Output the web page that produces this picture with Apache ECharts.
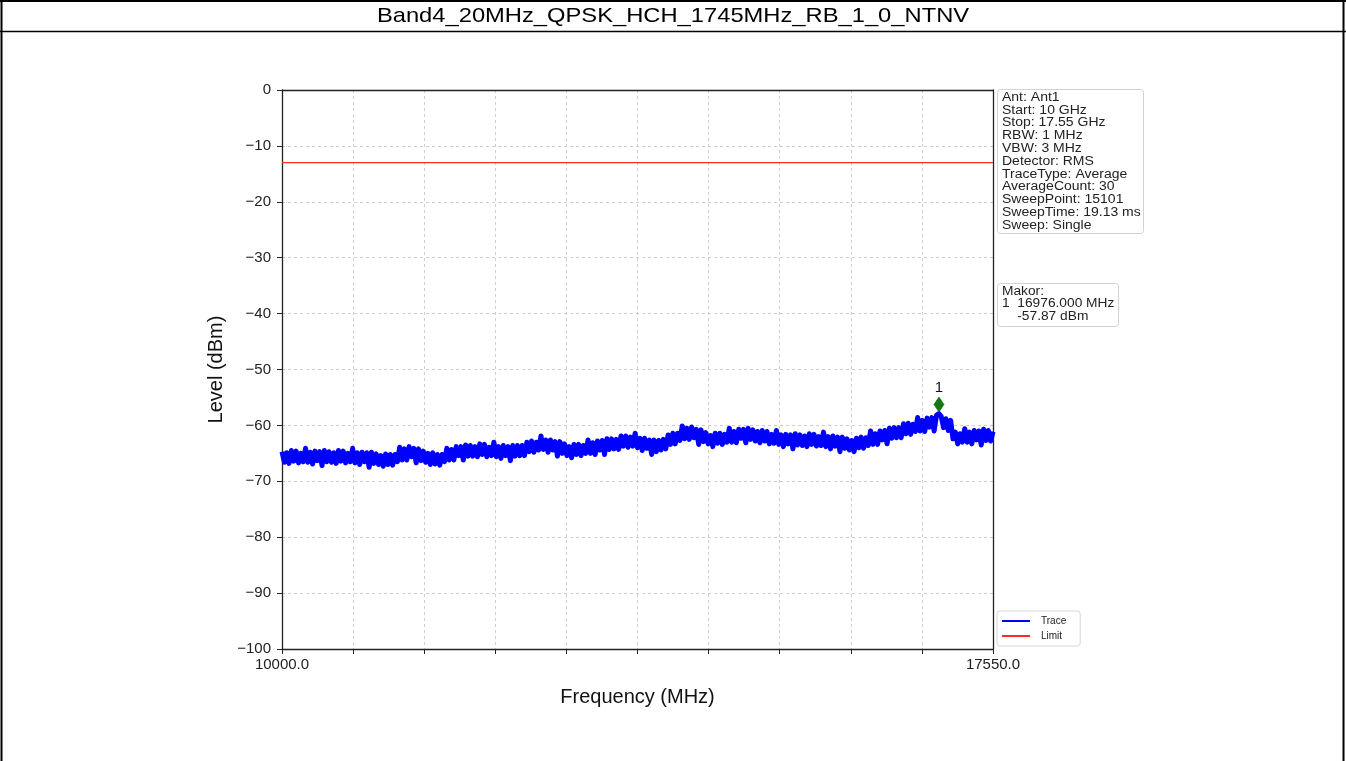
<!DOCTYPE html>
<html>
<head>
<meta charset="utf-8">
<script src="https://cdn.jsdelivr.net/npm/echarts@6/dist/echarts.min.js"></script>
<style>
html,body{margin:0;padding:0;background:#fff;}
#chart{width:1346px;height:761px;}
</style>
</head>
<body>
<div id="chart"></div>
<script>
// ---- data ----
const chartTitle = 'Band4_20MHz_QPSK_HCH_1745MHz_RB_1_0_NTNV';
const freqStart = 10000;   // MHz
const freqStop = 17550;    // MHz
const freqStep = 25;       // MHz between displayed sweep samples
const yTicks = [0, -10, -20, -30, -40, -50, -60, -70, -80, -90, -100];
const limitLevel = -13;    // dBm
const markerFreq = 16976.000;
const markerLevel = -57.87;
const infoLines = ['Ant: Ant1','Start: 10 GHz','Stop: 17.55 GHz','RBW: 1 MHz','VBW: 3 MHz','Detector: RMS','TraceType: Average','AverageCount: 30','SweepPoint: 15101','SweepTime: 19.13 ms','Sweep: Single'];
const markerLines = ['Makor:', '1  16976.000 MHz', '    -57.87 dBm'];
// trace levels (dBm), one per displayed sample starting at freqStart
const traceLevels = [
 -64.7,-66.6,-64.9,-66.8,-64.5,-66.4,-64.6,-66.7,-65.0,-66.5,-64.1,-66.6,-64.8,-66.9,-64.6,-66.3,-64.7,-67.2,-64.5,-66.5,
 -64.7,-66.6,-64.9,-66.8,-64.5,-66.4,-64.6,-66.7,-65.0,
 -66.5,-64.1,-66.7,-64.9,-67.0,-64.8,-66.5,-64.9,-67.5,-64.8,-66.8,-65.1,-67.0,-65.4,-67.3,-65.1,-67.0,-65.2,
 -67.1,-65.2,-66.5,-63.9,-66.2,-64.2,-66.2,-63.8,
 -65.6,-64.1,-66.7,-64.2,-66.3,-64.6,-66.6,-65.0,-67.0,-64.9,-66.9,-65.2,
 -67.1,-65.2,-66.5,-64.1,-66.2,-64.3,-66.2,-63.8,
 -65.4,-63.8,-66.2,-63.5,-65.5,-63.6,-65.5,-63.8,-65.6,-63.3,-65.2,-63.4,-65.6,-63.9,-65.4,-63.0,-65.6,-63.8,-65.9,-63.6,-65.4,-63.8,-66.3,-63.6,
 -65.5,-63.6,-65.4,-63.6,-65.4,-63.0,-64.7,-62.8,-64.8,-63.0,-64.4,-61.9,-64.3,
 -62.6,-64.8,-62.6,-64.4,-62.9,-65.5,-62.9,-65.0,-63.3,-65.4,-63.8,-65.8,
 -63.4,-65.2,-63.4,-65.4,-63.6,-65.0,-62.6,-65.0,-63.1,-65.2,-62.8,
 -64.4,-62.7,-65.2,-62.4,-64.3,-62.4,-64.2,-62.5,-64.3,-61.9,-63.7,-61.9,-63.9,-62.1,
 -63.7,-61.4,-64.0,-62.3,-64.5,-62.3,-64.1,-62.6,-65.2,-62.6,-64.7,
 -62.7,-64.4,-62.5,-64.2,-61.7,-63.4,-61.4,-63.3,-61.4,-62.7,-60.1,-62.4,-60.5,-62.5,
 -60.3,-62.2,-60.7,-63.4,-60.8,-62.9,-61.3,-63.3,-61.8,-63.8,
 -61.4,-63.2,-61.4,-63.4,-61.6,-63.0,-60.5,-63.0,-61.1,-63.1,-60.7,-62.3,-60.7,-63.1,
 -60.5,-62.5,-60.8,-62.8,-61.1,-63.1,-60.9,-62.8,-61.1,-63.3,-61.6,-63.2,-60.9,-63.4,-61.7,-63.8,-61.6,
 -63.3,-61.7,-64.2,-61.5,-63.5,-61.7,-63.6,-61.9,-63.8,-61.5,-63.4,-61.6,-63.7,-62.0,
 -63.6,-61.2,-63.8,-62.0,-64.2,-61.9,-63.7,-62.1,-64.7,-62.1,-64.1,-62.4,-64.4,-62.7,-64.7,
 -62.3,-64.0,-62.1,-64.1,-62.2,-63.6,-61.0,-63.4,-61.5,-63.4,-61.0,-62.6,-60.9,
 -63.3,-60.5,-62.3,-60.4,-62.2,-60.4,-62.2,-59.7,-61.5,-59.6,-61.6,-59.8,-61.1,-58.6,-61.0,
 -59.1,-61.1,-58.7,-60.3,-58.6,-61.0,-58.2,-57.9,-58.4,-60.4,-58.8,-60.9,-59.1,
 -62.4,-61.2,-63.3,-61.5,-63.0,-60.6,-63.0,-61.2,-63.3,-60.9,-62.6,-61.0,-63.5,-60.7,-62.7,-60.9,-62.8,-61.1
];

// ---- build ----
const FONT = '"Liberation Sans", Arial, Helvetica, sans-serif';
const traceData = traceLevels.map((v, i) => [freqStart + i * freqStep, v]);
const minus = v => String(v).replace('-', '\u2212');

const chart = echarts.init(document.getElementById('chart'), null, {renderer: 'canvas'});
const gridL = 282, gridT = 90, gridR = 993, gridB = 649;

const option = {
  backgroundColor: '#ffffff',
  animation: false,
  textStyle: {fontFamily: FONT},
  grid: {left: gridL, top: gridT, width: gridR - gridL, height: gridB - gridT, containLabel: false},
  xAxis: [{
    type: 'value', min: freqStart, max: freqStop, interval: (freqStop - freqStart) / 10,
    name: 'Frequency (MHz)', nameLocation: 'middle', nameGap: 38,
    nameTextStyle: {fontSize: 20, color: '#111', fontFamily: FONT},
    axisLine: {show: true, onZero: false, lineStyle: {color: '#222', width: 1.3}},
    axisTick: {show: true, inside: false, length: 5, lineStyle: {color: '#222', width: 1}},
    axisLabel: {
      fontSize: 15, color: '#222', margin: 8, fontFamily: FONT,
      showMinLabel: true, showMaxLabel: true,
      formatter: v => (Math.abs(v - freqStart) < 1e-6 || Math.abs(v - freqStop) < 1e-6) ? v.toFixed(1) : ''
    },
    splitLine: {show: true, lineStyle: {color: '#cfcfcf', type: [3, 3], width: 1}}
  }, {
    type: 'value', position: 'top', min: freqStart, max: freqStop,
    axisLine: {show: true, onZero: false, lineStyle: {color: '#222', width: 1.3}},
    axisTick: {show: false}, axisLabel: {show: false}, splitLine: {show: false}
  }],
  yAxis: [{
    type: 'value', min: -100, max: 0, interval: 10,
    name: 'Level (dBm)', nameLocation: 'middle', nameGap: 52,
    nameTextStyle: {fontSize: 20, color: '#111', fontFamily: FONT},
    axisLine: {show: true, onZero: false, lineStyle: {color: '#222', width: 1.3}},
    axisTick: {show: true, inside: false, length: 5, lineStyle: {color: '#222', width: 1}},
    axisLabel: {fontSize: 15, color: '#222', margin: 11, fontFamily: FONT,
      formatter: v => yTicks.includes(v) ? minus(v) : ''},
    splitLine: {show: true, lineStyle: {color: '#cfcfcf', type: [3, 3], width: 1}}
  }, {
    type: 'value', position: 'right', min: -100, max: 0,
    axisLine: {show: true, onZero: false, lineStyle: {color: '#222', width: 1.3}},
    axisTick: {show: false}, axisLabel: {show: false}, splitLine: {show: false}
  }],
  legend: {
    orient: 'vertical', left: 997, top: 611,
    data: [{name: 'Trace', icon: 'rect'}, {name: 'Limit', icon: 'rect'}],
    itemWidth: 28, itemHeight: 2, itemGap: 5,
    padding: [5, 14, 5, 5],
    backgroundColor: '#fff', borderColor: '#d6d6d6', borderWidth: 1, borderRadius: 3,
    textStyle: {fontSize: 10, color: '#222', fontFamily: FONT, padding: [0, 0, 0, 6]}
  },
  series: [{
    name: 'Trace', type: 'line', xAxisIndex: 0, yAxisIndex: 0,
    data: traceData, showSymbol: false, symbol: 'none',
    lineStyle: {color: '#0000ff', width: 5, join: 'round'},
    itemStyle: {color: '#0000ff'},
    z: 3
  }, {
    name: 'Limit', type: 'line', xAxisIndex: 0, yAxisIndex: 0,
    data: [[freqStart, limitLevel], [freqStop, limitLevel]],
    showSymbol: false, symbol: 'none',
    lineStyle: {color: '#ff2a2a', width: 1.2},
    itemStyle: {color: '#ff2a2a'},
    z: 4
  }, {
    name: 'Marker', type: 'scatter', xAxisIndex: 0, yAxisIndex: 0,
    data: [[markerFreq, markerLevel]],
    symbol: 'diamond', symbolSize: [10, 15], symbolOffset: [0, -9],
    itemStyle: {color: '#137a13', opacity: 1, borderColor: '#0b5a0b', borderWidth: 0.6},
    label: {show: true, position: 'top', distance: 1, formatter: '1', fontSize: 15, color: '#111', fontFamily: FONT},
    z: 5
  }],
  graphic: [
    // outer table frame
    {type: 'line', shape: {x1: 1.5, y1: 0, x2: 1.5, y2: 761}, style: {stroke: '#000', lineWidth: 2}},
    {type: 'line', shape: {x1: 1343.5, y1: 0, x2: 1343.5, y2: 761}, style: {stroke: '#000', lineWidth: 2}},
    {type: 'line', shape: {x1: 0, y1: 1, x2: 1346, y2: 1}, style: {stroke: '#000', lineWidth: 2}},
    {type: 'line', shape: {x1: 0, y1: 31.5, x2: 1346, y2: 31.5}, style: {stroke: '#000', lineWidth: 1.5}},
    {type: 'text', x: 673, y: 16, scaleX: 1.13, style: {text: chartTitle, font: '21px ' + FONT, fill: '#000', textAlign: 'center', textVerticalAlign: 'middle'}},
    // info box
    {type: 'rect', shape: {x: 997.5, y: 89.5, width: 146, height: 144, r: 3}, style: {fill: '#fff', stroke: '#d2d2d2', lineWidth: 1}, z: 10},
    {type: 'text', x: 1002, y: 91, scaleX: 1.12, z: 11, style: {text: infoLines.join('\n'), font: '12.5px ' + FONT, lineHeight: 12.8, fill: '#222'}},
    // marker box
    {type: 'rect', shape: {x: 997.5, y: 283.5, width: 121, height: 43, r: 3}, style: {fill: '#fff', stroke: '#d2d2d2', lineWidth: 1}, z: 10},
    {type: 'text', x: 1002, y: 285, scaleX: 1.1, z: 11, style: {text: markerLines.join('\n'), font: '12.5px ' + FONT, lineHeight: 12.6, fill: '#222'}}
  ]
};
chart.setOption(option);
</script>
</body>
</html>
